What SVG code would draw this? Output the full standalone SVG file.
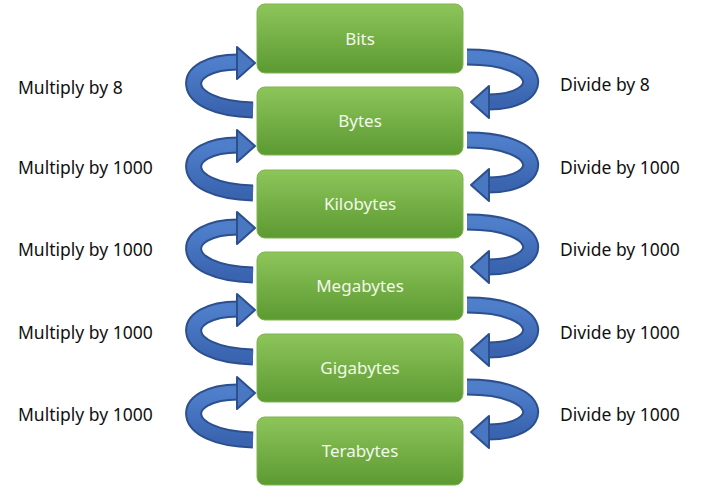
<svg xmlns="http://www.w3.org/2000/svg" width="720" height="501" viewBox="0 0 720 501">
<defs>
<linearGradient id="g" x1="0" y1="0" x2="0" y2="1"><stop offset="0" stop-color="#8dc55a"/><stop offset="1" stop-color="#5c9a32"/></linearGradient>
<linearGradient id="b" x1="0" y1="0" x2="0" y2="1"><stop offset="0" stop-color="#4f7fcb"/><stop offset="1" stop-color="#3a64b0"/></linearGradient>
</defs>
<style>
.box{fill:url(#g);stroke:#7fb450;stroke-width:1}
.bt{font-family:"Noto Sans","Open Sans",sans-serif;font-size:17px;fill:#f2f8ea;text-anchor:middle}
.lb{font-family:"Noto Sans","Open Sans",sans-serif;font-size:17.5px;fill:#111}
.o{fill:none;stroke:#2c4f8e;stroke-width:17}
.i{fill:none;stroke:url(#b);stroke-width:13}
.h{fill:#4a77c2;stroke:#2c4f8e;stroke-width:2;stroke-linejoin:round}
</style>
<rect width="720" height="501" fill="#fff"/>
<g id="connectors">
<g id="L1"><path class="o" d="M253,110 C175,108 178,62 238,62"/><path class="i" d="M253,110 C175,108 178,62 238,62"/><polygon class="h" points="237,47 255,63 237,79"/></g>
<g id="L2"><path class="o" d="M253,193 C175,191 178,145 238,145"/><path class="i" d="M253,193 C175,191 178,145 238,145"/><polygon class="h" points="237,130 255,146 237,162"/></g>
<g id="L3"><path class="o" d="M253,275 C175,273 178,227 238,227"/><path class="i" d="M253,275 C175,273 178,227 238,227"/><polygon class="h" points="237,212 255,228 237,244"/></g>
<g id="L4"><path class="o" d="M253,357 C175,355 178,309 238,309"/><path class="i" d="M253,357 C175,355 178,309 238,309"/><polygon class="h" points="237,294 255,310 237,326"/></g>
<g id="L5"><path class="o" d="M253,440 C175,438 178,392 238,392"/><path class="i" d="M253,440 C175,438 178,392 238,392"/><polygon class="h" points="237,377 255,393 237,409"/></g>
<g id="R1"><path class="o" d="M467,57 C548,57 548,102 488,102"/><path class="i" d="M467,57 C548,57 548,102 488,102"/><polygon class="h" points="489,86 471,102 489,118"/></g>
<g id="R2"><path class="o" d="M467,140 C548,140 548,185 488,185"/><path class="i" d="M467,140 C548,140 548,185 488,185"/><polygon class="h" points="489,169 471,185 489,201"/></g>
<g id="R3"><path class="o" d="M467,222 C548,222 548,267 488,267"/><path class="i" d="M467,222 C548,222 548,267 488,267"/><polygon class="h" points="489,251 471,267 489,283"/></g>
<g id="R4"><path class="o" d="M467,305 C548,305 548,350 488,350"/><path class="i" d="M467,305 C548,305 548,350 488,350"/><polygon class="h" points="489,334 471,350 489,366"/></g>
<g id="R5"><path class="o" d="M467,387 C548,387 548,432 488,432"/><path class="i" d="M467,387 C548,387 548,432 488,432"/><polygon class="h" points="489,416 471,432 489,448"/></g>
</g>
<g id="bits"><rect class="box" x="257" y="4" width="206" height="69" rx="8"/><text class="bt" x="360" y="45">Bits</text></g>
<g id="bytes"><rect class="box" x="257" y="87" width="206" height="68" rx="8"/><text class="bt" x="360" y="127">Bytes</text></g>
<g id="kilobytes"><rect class="box" x="257" y="170" width="206" height="68" rx="8"/><text class="bt" x="360" y="210">Kilobytes</text></g>
<g id="megabytes"><rect class="box" x="257" y="252" width="206" height="68" rx="8"/><text class="bt" x="360" y="292">Megabytes</text></g>
<g id="gigabytes"><rect class="box" x="257" y="334" width="206" height="68" rx="8"/><text class="bt" x="360" y="374">Gigabytes</text></g>
<g id="terabytes"><rect class="box" x="257" y="417" width="206" height="68" rx="8"/><text class="bt" x="360" y="457">Terabytes</text></g>
<g id="labels">
<text class="lb" x="18" y="94">Multiply by 8</text>
<text class="lb" x="18" y="174">Multiply by 1000</text>
<text class="lb" x="18" y="256">Multiply by 1000</text>
<text class="lb" x="18" y="339">Multiply by 1000</text>
<text class="lb" x="18" y="421">Multiply by 1000</text>
<text class="lb" x="560" y="91">Divide by 8</text>
<text class="lb" x="560" y="174">Divide by 1000</text>
<text class="lb" x="560" y="256">Divide by 1000</text>
<text class="lb" x="560" y="339">Divide by 1000</text>
<text class="lb" x="560" y="421">Divide by 1000</text>
</g>
</svg>
